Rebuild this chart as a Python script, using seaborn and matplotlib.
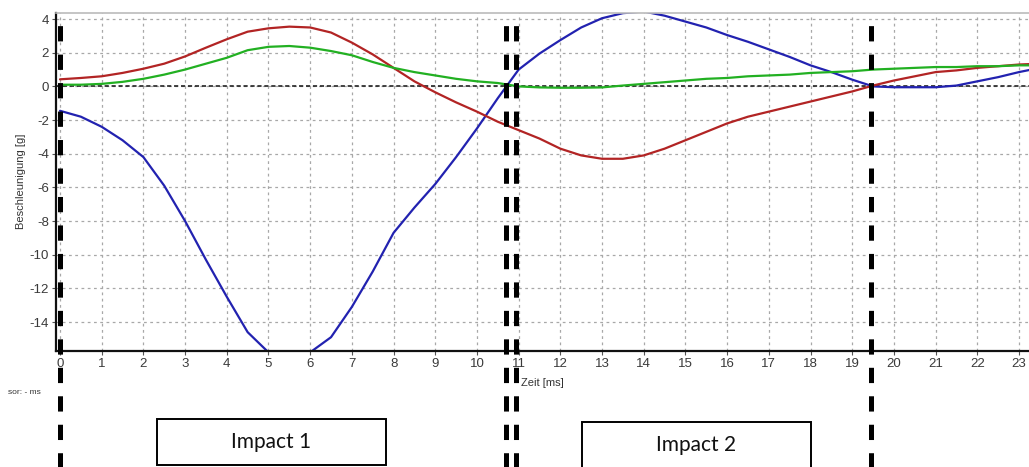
import matplotlib
matplotlib.use("Agg")
import matplotlib.pyplot as plt
from matplotlib.patches import Rectangle
from matplotlib.ticker import MultipleLocator
import seaborn as sns
import numpy as np
import pandas as pd

# Zeitachse in ms (Raster 0.5 ms)
zeit = [0, 0.5, 1, 1.5, 2, 2.5, 3, 3.5, 4, 4.5, 5, 5.5, 6, 6.5, 7, 7.5, 8, 8.5,
        9, 9.5, 10, 10.5, 11, 11.5, 12, 12.5, 13, 13.5, 14, 14.5, 15, 15.5, 16,
        16.5, 17, 17.5, 18, 18.5, 19, 19.5, 20, 20.5, 21, 21.5, 22, 22.5, 23, 23.5]

blau = [-1.45, -1.8, -2.4, -3.2, -4.2, -5.9, -8.0, -10.3, -12.5, -14.6, -15.8,
        -15.9, -15.8, -14.9, -13.1, -11.0, -8.7, -7.2, -5.8, -4.2, -2.5, -0.7,
        1.0, 1.95, 2.75, 3.5, 4.05, 4.35, 4.45, 4.2, 3.85, 3.5, 3.05, 2.65, 2.2,
        1.75, 1.25, 0.85, 0.4, 0.0, -0.05, -0.05, -0.05, 0.05, 0.3, 0.55, 0.85, 1.1]

rot = [0.42, 0.5, 0.6, 0.8, 1.05, 1.35, 1.78, 2.3, 2.8, 3.25, 3.45, 3.55, 3.5,
       3.2, 2.6, 1.9, 1.1, 0.3, -0.35, -0.95, -1.5, -2.1, -2.6, -3.1, -3.7,
       -4.1, -4.3, -4.3, -4.1, -3.7, -3.2, -2.7, -2.2, -1.8, -1.5, -1.2, -0.9,
       -0.6, -0.3, 0.05, 0.35, 0.6, 0.85, 0.95, 1.1, 1.2, 1.3, 1.35]

gruen = [0.1, 0.1, 0.15, 0.27, 0.45, 0.7, 1.0, 1.35, 1.7, 2.15, 2.35, 2.4, 2.3,
         2.1, 1.85, 1.45, 1.1, 0.85, 0.65, 0.45, 0.3, 0.2, 0.0, -0.06, -0.08,
         -0.08, -0.06, 0.05, 0.15, 0.25, 0.35, 0.45, 0.5, 0.6, 0.65, 0.7, 0.8,
         0.85, 0.9, 1.0, 1.05, 1.1, 1.15, 1.15, 1.2, 1.2, 1.25, 1.25]

# Zeitpunkte der senkrechten Markierungen (ms)
markierungen = [0, 10.7, 10.94, 19.44]

df = pd.DataFrame({
    "zeit": zeit * 3,
    "wert": blau + rot + gruen,
    "kanal": ["blau"] * len(zeit) + ["rot"] * len(zeit) + ["gruen"] * len(zeit),
})
farben = {"blau": "#2222b0", "rot": "#b22424", "gruen": "#22b022"}

sns.set_theme(style="white")
plt.rcParams["font.family"] = ["Liberation Sans", "DejaVu Sans"]
plt.rcParams["lines.scale_dashes"] = False
plt.rcParams["axes.unicode_minus"] = False

fig = plt.figure(figsize=(10.29, 4.67), dpi=100)
ax = fig.add_axes([56 / 1029, 1 - 351 / 467, 973 / 1029, 338.5 / 467])

sns.lineplot(data=df, x="zeit", y="wert", hue="kanal", palette=farben,
             estimator=None, sort=False, legend=False, linewidth=1.6, ax=ax)

ax.set_xlim(-0.096, 23.24)
ax.set_ylim(-15.72, 4.39)
ax.set_xticks(range(0, 24))
ax.set_yticks(range(-14, 5, 2))
ax.xaxis.set_minor_locator(MultipleLocator(0.2))
ax.grid(True, which="major", color="#a8a8a8", linestyle=(0, (2, 2.5)), linewidth=0.9)
ax.axhline(0, color="#222222", linestyle=(0, (3, 2)), linewidth=1.2, zorder=1)

ax.tick_params(axis="both", which="major", labelsize=9.5, labelcolor="#3a3a3a",
               color="#555555", length=3, width=0.8, pad=2)
ax.tick_params(axis="x", which="minor", length=2, width=0.6, color="#555555")
ax.tick_params(left=True, bottom=True)

for s in ["left", "bottom"]:
    ax.spines[s].set_color("#111111")
    ax.spines[s].set_linewidth(1.6)
ax.spines["top"].set_color("#bbbbbb")
ax.spines["top"].set_linewidth(1.2)
ax.spines["right"].set_visible(False)

ax.set_xlabel("")
ax.set_ylabel("Beschleunigung [g]", fontsize=8, color="#333333", labelpad=3)

# Beschriftungen unter der Achse
fig.text(521 / 1029, 1 - 383 / 467, "Zeit [ms]", fontsize=8, color="#333333",
         ha="left", va="center")
fig.text(8 / 1029, 1 - 392 / 467, "sor: - ms", fontsize=6, color="#333333",
         ha="left", va="center")

# senkrechte gestrichelte Linien bis zum unteren Bildrand
for t in markierungen:
    ax.axvline(t, ymin=-0.35, ymax=1, color="black", linewidth=3.6,
               linestyle=(0, (11, 9.5)), clip_on=False, zorder=5)

# Kästen "Impact 1" / "Impact 2"
kaesten = [(157, 419, 229, 46, "Impact 1"), (582, 422, 229, 50, "Impact 2")]
for x0, y0, w, h, txt in kaesten:
    fig.patches.append(Rectangle((x0 / 1029, 1 - (y0 + h) / 467), w / 1029, h / 467,
                                 transform=fig.transFigure, fill=False,
                                 edgecolor="black", linewidth=1.4))
    fig.text((x0 + w / 2) / 1029, 1 - (y0 + 23) / 467, txt, fontsize=15,
             family=["Lato", "DejaVu Sans"], color="#111111",
             ha="center", va="center")

fig.savefig("out.png", dpi=100)
